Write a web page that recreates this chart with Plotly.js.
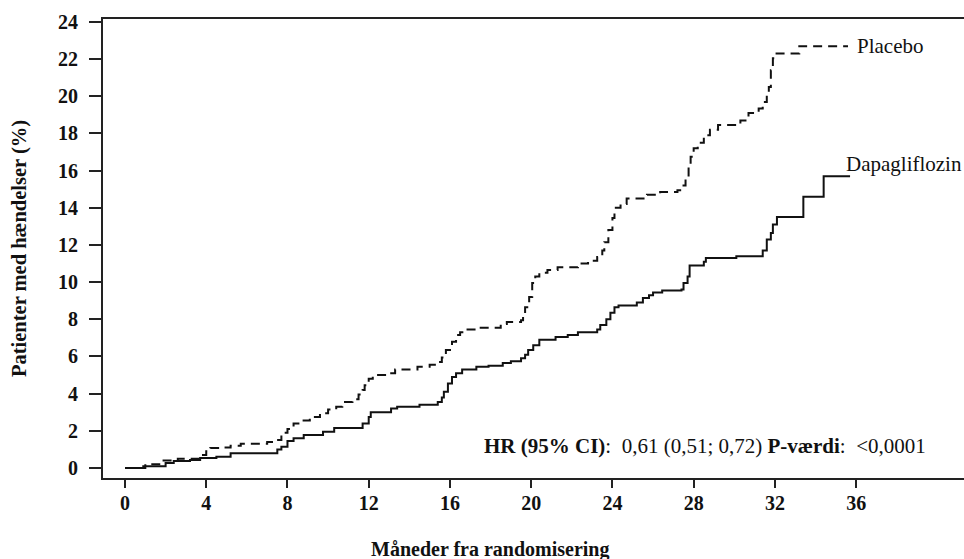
<!DOCTYPE html>
<html>
<head>
<meta charset="utf-8">
<script src="https://cdn.plot.ly/plotly-3.0.1.min.js"></script>
<style>html,body{margin:0;padding:0;background:#fff;}#chart{width:964px;height:559px;}</style>
</head>
<body>
<div id="chart"></div>
<script>
// Placebo (dashed) cumulative incidence, step points (months, %)
const placeboMonths = [0,1.0,1.8,2.6,3.7,4.0,4.2,4.8,5.2,5.7,7.0,7.3,7.7,8.0,8.3,8.6,9.1,9.6,10.0,10.4,10.7,11.2,11.5,11.7,11.8,12.0,12.2,12.9,13.3,14.4,15.0,15.4,15.6,15.8,16.1,16.3,16.5,16.8,17.3,18.5,18.8,19.5,19.6,19.7,19.9,20.05,20.2,20.4,20.8,21.3,22.3,22.8,23.25,23.5,23.6,23.8,24.0,24.1,24.4,24.7,25.7,26.35,27.2,27.4,27.6,27.75,27.85,28.0,28.2,28.5,28.8,29.2,30.3,30.7,31.2,31.4,31.6,31.7,31.8,31.9,32.0,33.2,35.6];
const placeboPct    = [0,0.2,0.4,0.5,0.7,0.9,1.07,1.1,1.2,1.3,1.4,1.5,1.9,2.1,2.4,2.55,2.75,2.95,3.15,3.3,3.55,3.7,3.95,4.2,4.45,4.8,5.0,5.1,5.3,5.45,5.55,5.7,5.95,6.35,6.8,7.15,7.3,7.45,7.55,7.75,7.85,7.95,8.3,8.65,9.2,9.95,10.3,10.5,10.65,10.8,11.0,11.15,11.35,11.7,12.15,12.8,13.45,14.0,14.2,14.5,14.7,14.85,14.95,15.2,15.6,16.2,16.75,17.2,17.5,17.9,18.2,18.45,18.7,19.1,19.35,19.7,20.1,20.5,21.4,22.05,22.3,22.7,22.7];

// Dapagliflozin (solid)
const dapaMonths = [0,0.9,2.0,2.4,3.2,3.7,4.5,5.2,7.5,7.7,8.0,8.3,8.8,9.75,10.3,11.7,12.0,12.1,13.1,13.4,14.5,15.4,15.6,15.7,15.9,16.1,16.3,16.6,17.3,17.9,18.6,19.0,19.5,19.7,19.85,20.1,20.4,21.2,21.8,22.3,23.25,23.4,23.7,23.9,24.1,24.3,25.2,25.5,25.8,26.0,26.45,27.4,27.5,27.7,27.8,28.5,28.6,30.1,31.4,31.6,31.8,31.9,32.1,33.4,34.4,35.7];
const dapaPct    = [0,0.1,0.27,0.38,0.43,0.54,0.6,0.8,1.0,1.15,1.45,1.6,1.78,1.95,2.15,2.4,2.75,3.0,3.2,3.3,3.4,3.55,3.8,4.1,4.55,4.9,5.1,5.3,5.45,5.5,5.65,5.75,5.9,6.1,6.35,6.6,6.9,7.05,7.15,7.3,7.45,7.7,8.0,8.35,8.65,8.75,8.9,9.15,9.3,9.45,9.55,9.6,9.95,10.3,10.9,11.1,11.3,11.4,11.7,12.3,12.65,13.1,13.5,14.6,15.7,15.7];

const xTicks = [0,4,8,12,16,20,24,28,32,36];
const yTicks = [0,2,4,6,8,10,12,14,16,18,20,22,24];

const seriesNames = ["Placebo","Dapagliflozin"];
const yTitle = "Patienter med hændelser (%)";
const xTitle = "Måneder fra randomisering";
const hrText = "<b>HR (95% CI)</b>:\u00A0 0,61 (0,51; 0,72) <b>P-værdi</b>:\u00A0 &lt;0,0001";

const FONT = "Liberation Serif, Times New Roman, serif";

const traces = [
  {x: placeboMonths, y: placeboPct, type: "scatter", mode: "lines", name: seriesNames[0],
   line: {shape: "hv", color: "#111", width: 2, dash: "9px,6px"}},
  {x: dapaMonths, y: dapaPct, type: "scatter", mode: "lines", name: seriesNames[1],
   line: {shape: "hv", color: "#111", width: 2}}
];

const layout = {
  width: 964, height: 559,
  margin: {l: 103, r: 0, t: 19, b: 81},
  paper_bgcolor: "#fff", plot_bgcolor: "#fff",
  showlegend: false,
  font: {family: FONT, color: "#111"},
  xaxis: {
    range: [-1.083, 41.31], tickvals: xTicks, ticktext: xTicks.map(String),
    showgrid: false, zeroline: false, showline: true, mirror: true,
    linecolor: "#222", linewidth: 2, ticks: "outside", ticklen: 8, tickwidth: 2, tickcolor: "#222",
    ticklabelstandoff: -2,
    tickfont: {family: FONT, size: 20, weight: "bold", color: "#111"}
  },
  yaxis: {
    range: [-0.538, 24.16], tickvals: yTicks, ticktext: yTicks.map(String),
    showgrid: false, zeroline: false, showline: true,
    linecolor: "#222", linewidth: 2, ticks: "outside", ticklen: 12, tickwidth: 2, tickcolor: "#222",
    ticklabelstandoff: 7,
    tickfont: {family: FONT, size: 20, weight: "bold", color: "#111"},
    title: {text: yTitle, font: {family: FONT, size: 20.5, weight: "bold", color: "#111"}, standoff: 26}
  },
  annotations: [
    {x: 18, xref: "x", y: 0, yref: "paper", yanchor: "middle", xanchor: "center", showarrow: false,
     text: "<b>" + xTitle + "</b>", font: {family: FONT, size: 20, color: "#111"}},
    {x: 17.6, xref: "x", y: 1.2, yref: "y", xanchor: "left", yanchor: "middle", showarrow: false,
     text: hrText, font: {family: FONT, size: 21, color: "#111"}},
    {x: 35.95, xref: "x", y: 22.7, yref: "y", xanchor: "left", yanchor: "middle", showarrow: false,
     text: seriesNames[0], font: {family: FONT, size: 21, color: "#111"}},
    {x: 35.4, xref: "x", y: 16.35, yref: "y", xanchor: "left", yanchor: "middle", showarrow: false,
     text: seriesNames[1], font: {family: FONT, size: 21, color: "#111"}}
  ]
};
// x title positioned in paper coords: pixel row 549
layout.annotations[0].y = (559 - 81 - 549) / (559 - 19 - 81);

Plotly.newPlot("chart", traces, layout, {displayModeBar: false, staticPlot: true});
</script>
</body>
</html>
